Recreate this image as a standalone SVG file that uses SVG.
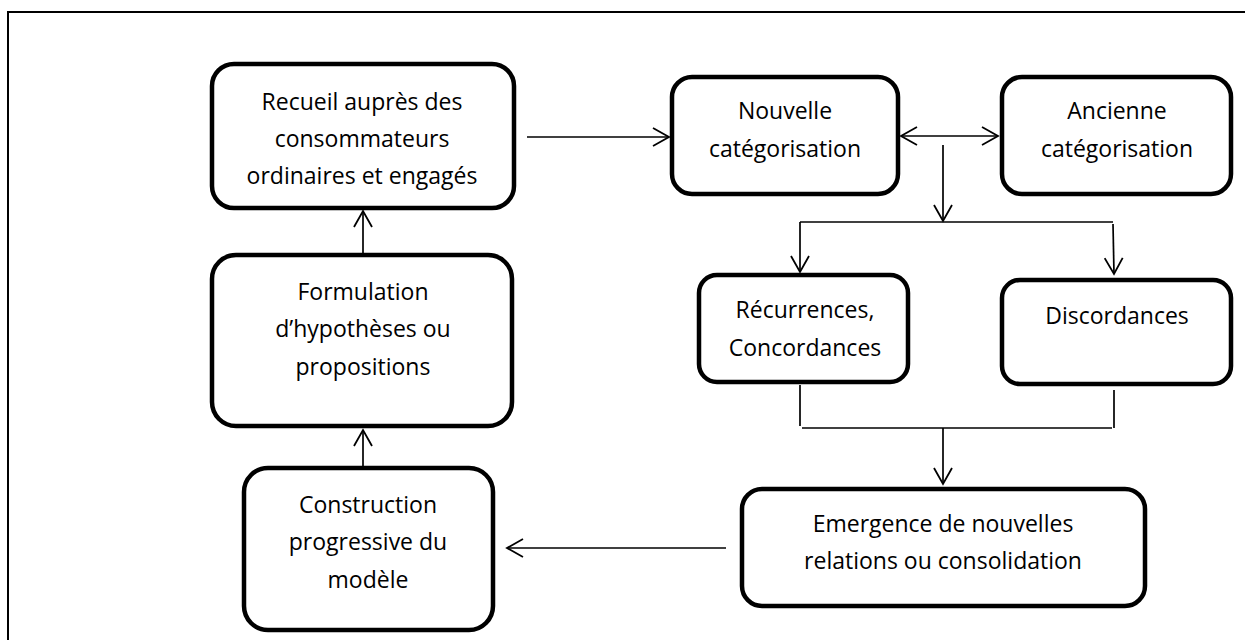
<svg xmlns="http://www.w3.org/2000/svg" width="1245" height="640" viewBox="0 0 1245 640">
<style>
.box{fill:#fff;stroke:#000;stroke-width:4.5}
.lbl{font-family:"Open Sans","Liberation Sans",sans-serif;font-size:23px;fill:#000;text-anchor:middle}
.con{fill:none;stroke:#000;stroke-width:1.7}
</style>
<defs>
<marker id="ah" viewBox="0 0 20 20" markerWidth="20" markerHeight="20" refX="18" refY="10" orient="auto-start-reverse" markerUnits="userSpaceOnUse">
<path d="M2,1 L18,10 L2,19" fill="none" stroke="#000" stroke-width="1.8"/>
</marker>
</defs>
<rect width="1245" height="640" fill="#fff"/>
<path d="M8,640 V12 H1245" fill="none" stroke="#000" stroke-width="2"/>

<g id="connectors">
<line class="con" x1="527" y1="137" x2="669" y2="137" marker-end="url(#ah)"/>
<line class="con" x1="901" y1="136" x2="998" y2="136" marker-start="url(#ah)" marker-end="url(#ah)"/>
<line class="con" x1="943" y1="145" x2="943" y2="221" marker-end="url(#ah)"/>
<line class="con" x1="800" y1="222" x2="1113" y2="222"/>
<line class="con" x1="800" y1="222" x2="800" y2="272" marker-end="url(#ah)"/>
<line class="con" x1="1113" y1="224" x2="1114" y2="274" marker-end="url(#ah)"/>
<line class="con" x1="800" y1="385" x2="800" y2="426"/>
<line class="con" x1="1114" y1="390" x2="1114" y2="428"/>
<line class="con" x1="802" y1="428" x2="1112" y2="428"/>
<line class="con" x1="943" y1="428" x2="943" y2="484" marker-end="url(#ah)"/>
<line class="con" x1="726" y1="548" x2="507" y2="548" marker-end="url(#ah)"/>
<line class="con" x1="363" y1="466" x2="363" y2="430" marker-end="url(#ah)"/>
<line class="con" x1="363" y1="253" x2="363" y2="211" marker-end="url(#ah)"/>
</g>

<g id="recueil">
<rect class="box" x="212" y="64" width="302" height="144" rx="22"/>
<text class="lbl" x="362" y="110">Recueil auprès des</text>
<text class="lbl" x="362" y="147">consommateurs</text>
<text class="lbl" x="362" y="184">ordinaires et engagés</text>
</g>
<g id="formulation">
<rect class="box" x="212" y="255" width="300" height="171" rx="24"/>
<text class="lbl" x="363" y="300">Formulation</text>
<text class="lbl" x="363" y="337">d’hypothèses ou</text>
<text class="lbl" x="363" y="375">propositions</text>
</g>
<g id="construction">
<rect class="box" x="244" y="468" width="249" height="162" rx="24"/>
<text class="lbl" x="368" y="513">Construction</text>
<text class="lbl" x="368" y="550">progressive du</text>
<text class="lbl" x="368" y="588">modèle</text>
</g>
<g id="nouvelle">
<rect class="box" x="672" y="77" width="226" height="117" rx="20"/>
<text class="lbl" x="785" y="119">Nouvelle</text>
<text class="lbl" x="785" y="157">catégorisation</text>
</g>
<g id="ancienne">
<rect class="box" x="1002" y="77" width="229" height="117" rx="20"/>
<text class="lbl" x="1117" y="119">Ancienne</text>
<text class="lbl" x="1117" y="157">catégorisation</text>
</g>
<g id="recurrences">
<rect class="box" x="699" y="275" width="209" height="107" rx="18"/>
<text class="lbl" x="805" y="318">Récurrences,</text>
<text class="lbl" x="805" y="356">Concordances</text>
</g>
<g id="discordances">
<rect class="box" x="1002" y="280" width="229" height="104" rx="18"/>
<text class="lbl" x="1117" y="324">Discordances</text>
</g>
<g id="emergence">
<rect class="box" x="742" y="489" width="403" height="117" rx="20"/>
<text class="lbl" x="943" y="532">Emergence de nouvelles</text>
<text class="lbl" x="943" y="569">relations ou consolidation</text>
</g>
</svg>
